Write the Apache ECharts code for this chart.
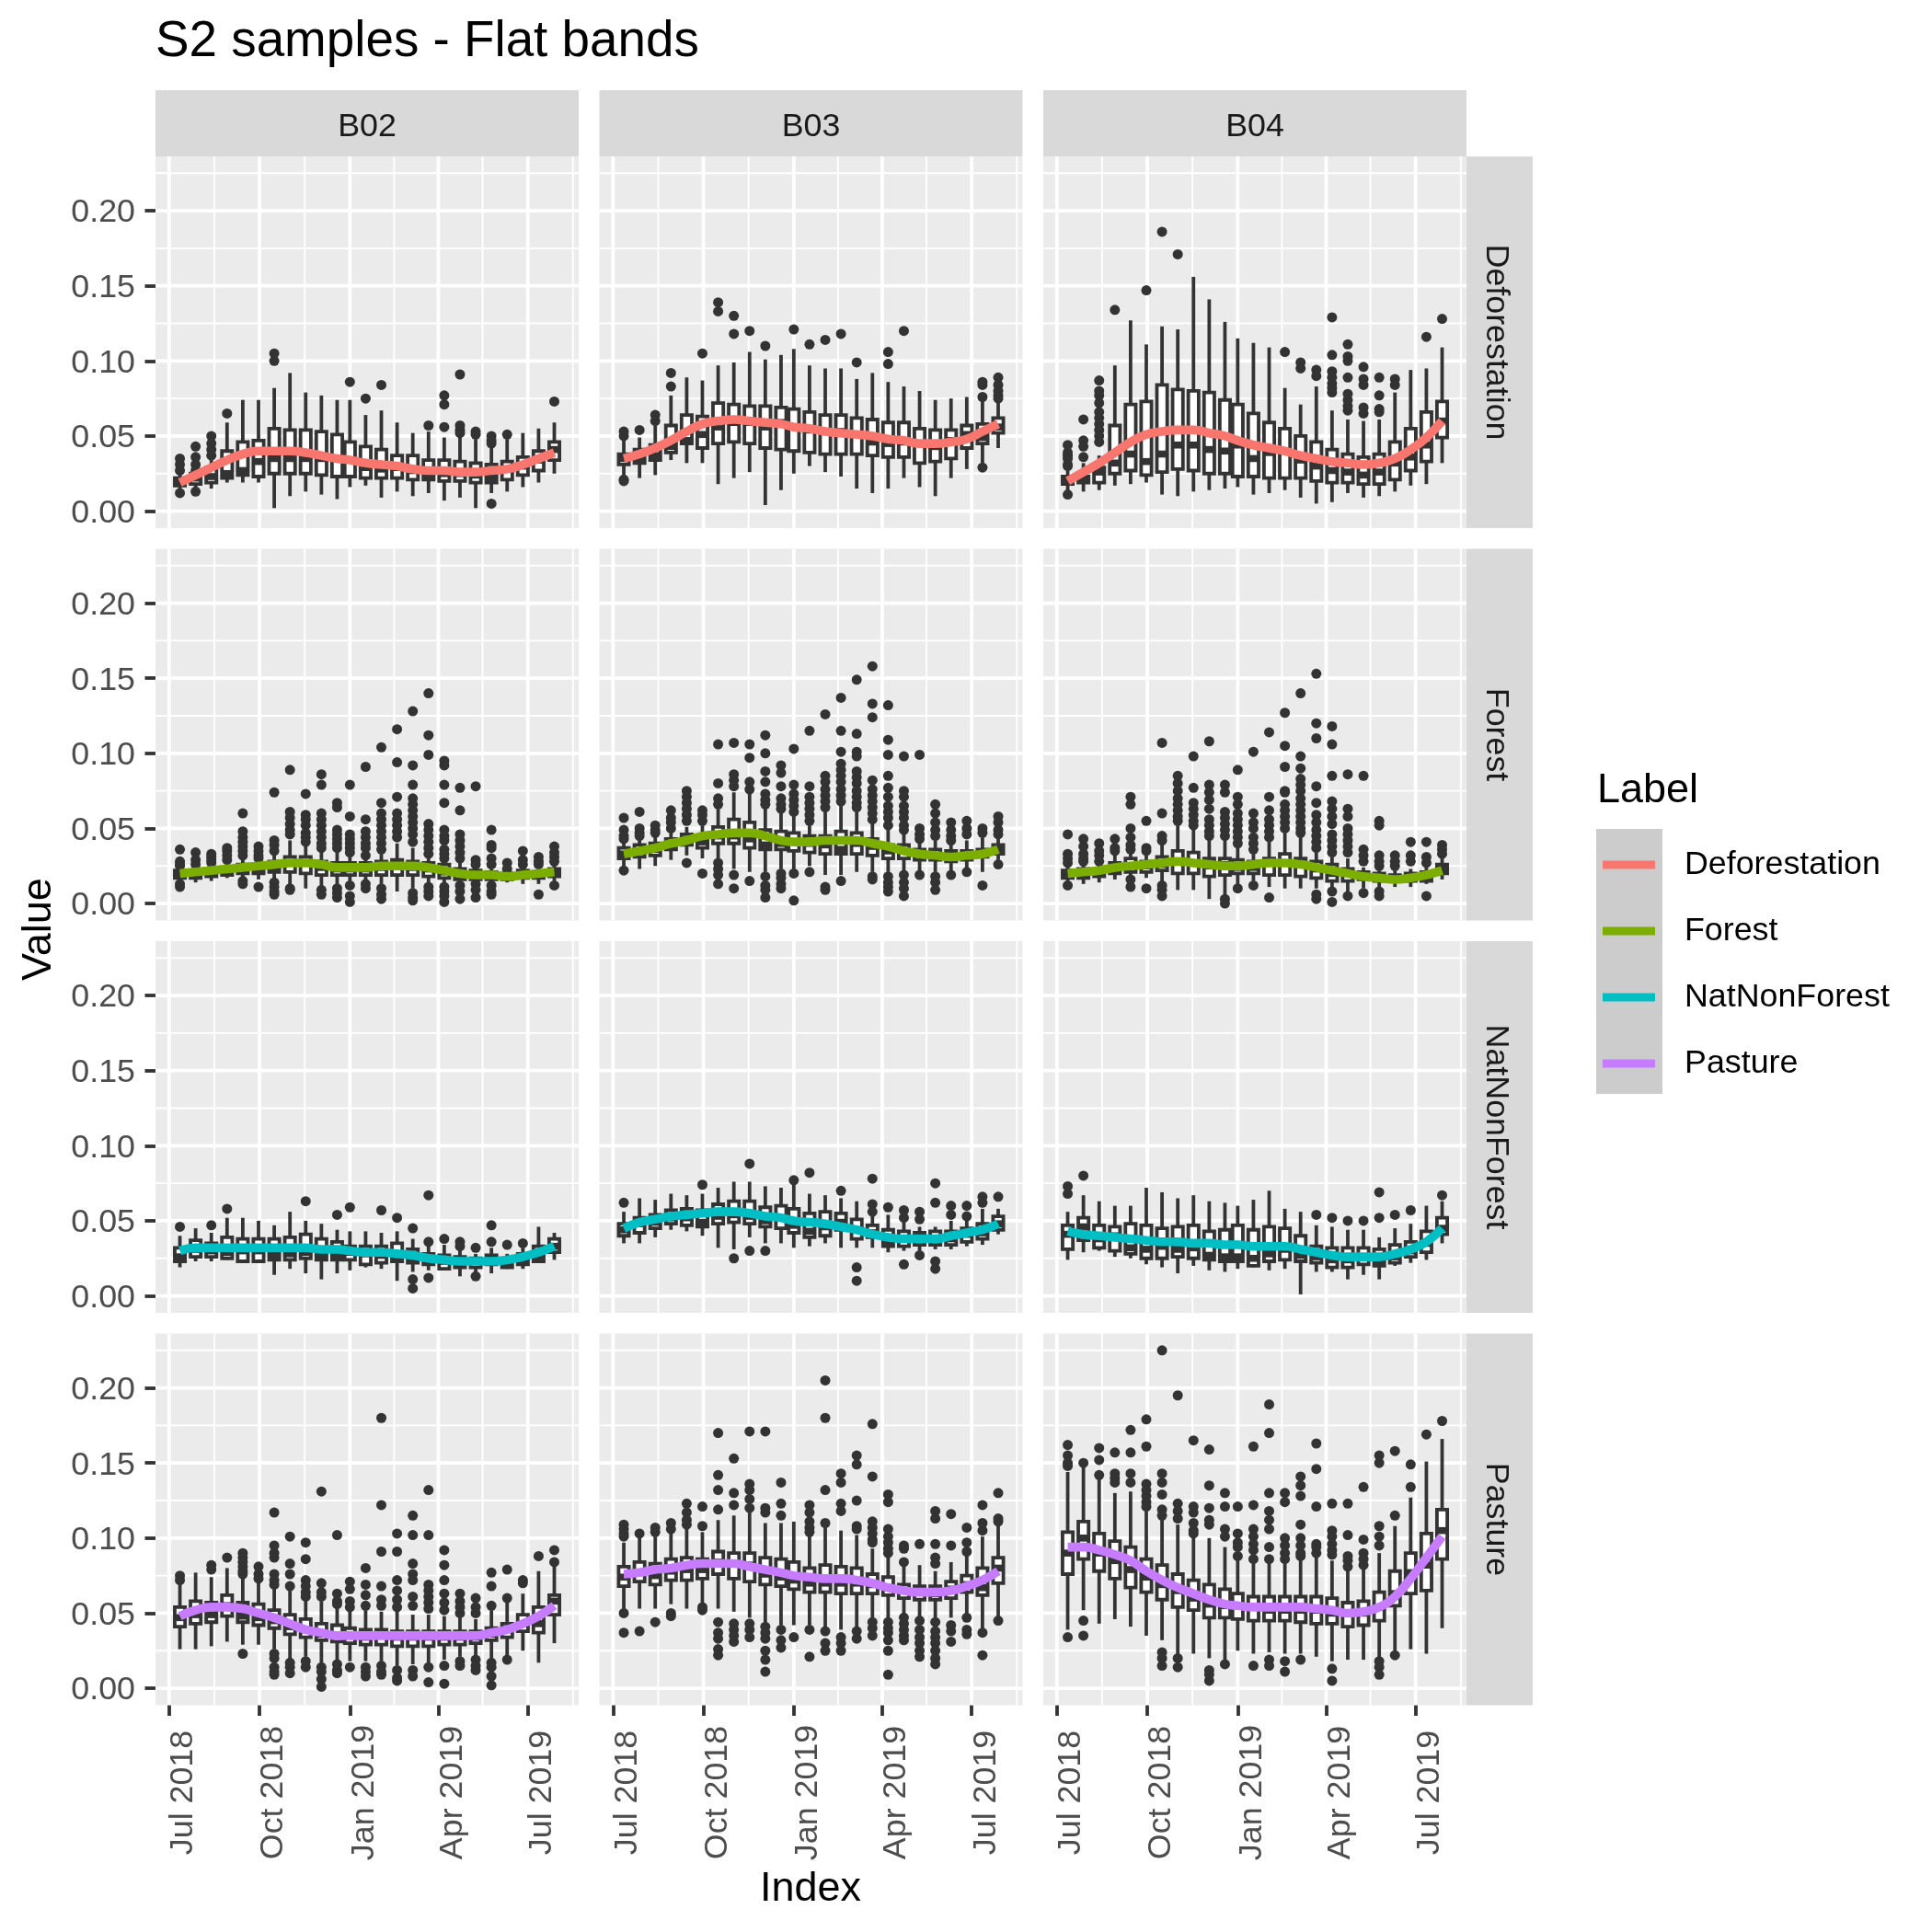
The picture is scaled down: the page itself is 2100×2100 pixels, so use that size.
<!DOCTYPE html>
<html><head><meta charset="utf-8">
<style>html,body{margin:0;padding:0;background:#fff}#c{width:2100px;height:2100px}</style>
<script src="https://cdn.jsdelivr.net/npm/echarts@6/dist/echarts.min.js"></script>
</head><body><div id="c"></div>
<script>
const bands = ['B02','B03','B04'];
const labels = ['Deforestation','Forest','NatNonForest','Pasture'];
const colors = ['#F8766D','#7CAE00','#00BFC4','#C77CFF'];
const dates = ['2018-07-12','2018-07-28','2018-08-13','2018-08-29','2018-09-14','2018-09-30','2018-10-16','2018-11-01','2018-11-17','2018-12-03','2018-12-19','2019-01-01','2019-01-17','2019-02-02','2019-02-18','2019-03-06','2019-03-22','2019-04-07','2019-04-23','2019-05-09','2019-05-25','2019-06-10','2019-06-26','2019-07-12','2019-07-28'];
const xTickDates = ['2018-07-01','2018-10-01','2019-01-01','2019-04-01','2019-07-01'];
const xTickLabels = ['Jul 2018','Oct 2018','Jan 2019','Apr 2019','Jul 2019'];
const xMinorDates = ['2018-08-16','2018-11-16','2019-02-15','2019-05-16','2019-08-16'];
const yTicks = [0,0.05,0.10,0.15,0.20];
const yMinor = [0.025,0.075,0.125,0.175,0.225];

// values are in thousandths; box rows are [low, q1, median, q3, high]
const B02_Deforestation_box = [[14,17,20,22,25],[14,18,22,25,26],[15,19,23,29,34],[19,22,25,40,59],[19,24,27,46,74],[19,23,33,47,74],[2,25,35,55,82],[10,25,35,54,92],[13,25,35,54,79],[11,24,35,53,77],[8,23,35,51,74],[16,23,34,46,74],[17,22,29,43,64],[9,22,28,41,67],[13,22,29,37,59],[10,21,27,37,52],[12,21,23,34,53],[7,20,25,34,49],[9,20,25,33,50],[2,19,24,32,48],[12,19,22,31,43],[13,21,28,33,48],[16,24,30,36,52],[19,27,34,40,55],[25,34,41,46,59]];
const B02_Deforestation_out = [[35,31,27,12],[43,36,31,27,13],[50,45,41,37],[65],[],[],[105,100],[],[],[],[],[86],[75],[84],[],[],[57],[77,71,56],[91,57,54,52],[53,51],[50,47,45,5],[51],[],[],[73]];
const B02_Deforestation_line = [19,24,29,34,38,40,40,40,39,37,35,34,32,31,30,28,27,27,26,26,27,28,31,35,39];

const B03_Deforestation_box = [[23,31,35,38,47],[22,32,35,41,49],[24,34,37,44,57],[34,39,43,57,77],[32,45,47,64,89],[32,42,51,63,87],[18,45,56,72,97],[22,46,59,71,99],[26,45,59,70,106],[4,42,56,70,101],[14,41,59,69,104],[25,40,56,68,108],[30,39,54,66,97],[26,38,53,64,95],[23,38,53,64,95],[15,38,51,62,88],[12,37,46,61,92],[15,36,45,59,86],[22,36,46,59,83],[16,32,45,55,80],[10,33,43,54,74],[22,35,47,54,75],[28,42,51,57,76],[32,45,49,58,75],[42,52,56,62,72]];
const B03_Deforestation_out = [[53,50,21,20],[54],[64,60],[92,83],[],[105],[139,133],[130,118],[120],[110],[],[121],[111],[114],[118],[99],[],[106,98],[120],[],[],[],[],[86,84,76,29],[89,84,80,77,75]];
const B03_Deforestation_line = [35,38,42,47,53,58,60,61,60,59,58,56,55,53,52,51,50,48,47,45,45,46,48,53,58];

const B04_Deforestation_box = [[13,18,21,23,27],[13,19,21,23,32],[14,19,26,29,37],[17,25,32,57,97],[18,27,38,71,127],[19,24,33,73,111],[11,26,38,84,123],[10,28,44,81,121],[13,27,44,80,156],[14,25,41,79,141],[15,25,40,74,126],[16,23,44,71,115],[11,23,35,65,112],[12,22,39,59,109],[14,22,40,55,82],[9,22,34,50,71],[5,20,30,46,83],[6,19,27,41,67],[12,19,26,38,61],[9,18,24,36,60],[10,18,26,38,61],[13,21,32,46,79],[17,27,36,55,94],[18,33,44,66,95],[32,49,60,73,109]];
const B04_Deforestation_out = [[44,39,37,35,31,30,11],[61,47,43,36],[87,80,77,72,66,62,58,54,50,46],[134],[],[147],[186],[171],[],[],[],[],[],[],[106],[99,95],[94,90],[129,104,93,89,85,82,79],[111,103,100,89,78,74,70,67],[96,88,84,69,65],[89,77,68,66],[88,84],[],[116],[128]];
const B04_Deforestation_line = [20,26,32,39,46,51,53,54,54,52,50,47,44,42,40,37,35,33,32,31,32,35,41,49,60];

const B02_Forest_box = [[16,17,20,22,23],[14,17,20,22,24],[15,18,21,23,25],[17,19,22,24,27],[16,20,23,26,30],[16,20,23,26,28],[16,21,24,28,32],[11,21,27,31,42],[10,20,27,31,40],[11,19,24,28,36],[12,19,23,27,35],[14,19,23,27,32],[15,19,23,27,30],[13,19,24,28,33],[8,19,26,29,40],[10,19,24,28,37],[13,18,23,27,30],[14,17,21,26,28],[13,16,20,23,27],[14,16,19,22,24],[13,16,18,21,23],[14,16,18,20,22],[13,17,19,22,23],[13,17,19,21,23],[15,18,21,23,26]];
const B02_Forest_out = [[36,28,26,25,13,11],[34,29,26],[33,31,29,27],[37,35,32,29],[60,48,44,41,38,35,32,15,13],[38,35,32,30,11],[74,42,39,35,14,11,8,6],[89,61,57,53,49,46,10,9],[73,59,56,52,47,44,41],[86,79,60,56,52,48,44,40,37,9,6],[67,64,49,46,43,40,37,10,7,4],[79,58,46,43,40,37,34,12,5,1],[91,56,48,44,40,37,32,13,10],[104,67,60,56,52,48,44,40,36,10,6,3],[116,94,71,60,56,52,48,44],[128,92,79,70,66,62,58,54,50,46,41,7,4,2],[140,112,99,53,49,45,41,37,33,11,8,5],[95,92,79,67,49,45,42,36,33,30,11,8,5,1],[77,62,46,42,38,34,30,12,8,3],[78,29,26,13,9,4],[49,39,37,30,26,12,8,6],[27,23],[35,29,26],[31,28,26,6],[38,34,31,28,12]];
const B02_Forest_line = [20,21,22,23,24,25,26,27,27,26,24,24,24,25,25,25,24,22,20,19,19,18,19,20,21];

const B03_Forest_box = [[24,30,33,37,41],[23,31,35,39,43],[25,32,36,40,45],[29,36,39,43,48],[32,39,42,46,51],[30,37,41,45,52],[30,40,45,51,63],[23,40,45,56,74],[21,37,43,54,73],[21,36,39,49,64],[23,36,40,48,61],[22,35,41,47,59],[25,34,40,45,52],[19,33,39,45,61],[19,33,36,48,65],[21,33,40,47,61],[21,32,38,43,54],[21,30,35,39,49],[21,30,35,39,48],[22,29,33,36,41],[21,29,32,36,42],[21,28,32,35,40],[23,29,32,35,42],[21,31,34,36,44],[29,33,36,39,44]];
const B03_Forest_out = [[57,49,45,43,22],[61,50,47,45],[52,49,47],[62,57,54,50],[75,71,67,63,59,55,27],[62,59,55,20],[106,80,70,66,27,23,19,13],[107,86,82,78,19,10],[106,97,81,76,15],[112,100,88,81,73,69,66,18,12,9,4],[92,87,78,70,66,63,20,17,13,10],[103,79,73,69,65,61,20,2],[115,78,71,67,63,59,55,21],[126,85,81,76,72,68,64,11,9],[137,115,101,93,89,85,81,76,72,68,15],[149,113,101,98,88,84,80,75,71,67,64],[158,133,124,82,76,72,68,64,60,56,18,16],[132,109,99,85,77,71,65,61,57,52,18,14,11,8],[98,75,71,65,61,57,52,49,19,14,10,5],[99,50,46,43,19],[66,60,54,49,45,18,14,9],[54,49,45,42,19],[55,50,46,21],[50,47,12],[58,54,49,46,26]];
const B03_Forest_line = [33,35,37,40,42,45,46,47,47,45,42,41,41,42,42,42,40,38,35,33,32,31,32,33,36];

const B04_Forest_box = [[14,17,20,22,24],[13,17,20,23,26],[14,18,21,23,26],[16,20,23,27,32],[18,21,25,30,34],[17,21,25,28,33],[14,22,26,31,40],[9,20,28,35,52],[9,20,27,34,51],[3,18,25,30,44],[5,19,26,30,43],[12,20,24,29,37],[15,20,24,28,33],[11,19,27,30,41],[10,19,27,33,47],[10,18,27,30,45],[10,17,23,28,34],[11,15,20,26,31],[8,15,20,23,30],[10,16,19,21,24],[11,15,18,20,22],[11,15,17,19,22],[11,15,18,20,23],[13,15,18,21,24],[16,20,23,26,30]];
const B04_Forest_out = [[46,33,30,27,12],[43,38,33,30,28],[40,35,32,28],[43,37,35],[71,66,50,44,39,36,16,11],[55,37,35,10],[107,60,45,42,12,9,5],[85,80,75,70,66,62,58,55],[98,77,67,63,59,55,52],[108,79,74,69,63,56,52,48,45],[79,74,61,57,53,49,45,3,0],[89,71,66,60,56,52,48,44,40,10],[101,60,54,50,44,40,36,12],[114,71,62,56,52,48,44,4],[127,105,91,75,74,66,62,58,54,50],[140,98,90,83,79,75,70,66,62,58,54,50,47],[153,120,110,78,67,59,54,49,45,41,37,6,3],[118,106,85,68,63,58,53,46,42,38,34,8,1],[86,63,58,50,46,42,38,34,5],[85,36,32,28,7],[55,52,32,28,25,8,5],[32,28,25],[41,32,28],[41,31,27,5],[39,36,33]];
const B04_Forest_line = [20,21,22,24,25,26,27,28,27,26,25,25,26,27,27,26,24,22,20,18,17,16,17,19,22];

const B02_NatNonForest_box = [[19,23,26,32,40],[23,26,31,37,45],[23,26,30,35,42],[24,25,29,39,52],[22,23,30,38,52],[22,23,30,38,50],[14,24,27,38,47],[18,24,28,39,56],[15,25,29,41,50],[11,24,27,38,48],[15,24,27,36,44],[17,24,29,33,43],[19,21,28,33,43],[18,22,27,33,42],[10,23,26,35,43],[16,22,25,31,38],[17,21,23,28,33],[17,18,23,27,34],[13,19,22,26,31],[15,19,23,25,28],[15,21,24,27,32],[18,19,21,23,28],[18,21,23,28,32],[22,23,25,33,46],[24,29,33,38,42]];
const B02_NatNonForest_out = [[46],[],[47],[58],[],[],[],[],[63],[],[54],[59],[],[57],[52],[45,11,5],[67,36,12],[38],[36,33],[32,13],[47,36],[34],[35],[],[]];
const B02_NatNonForest_line = [30,32,32,32,32,32,32,32,32,31,31,30,29,29,28,27,25,24,23,23,23,24,26,29,33];

const B03_NatNonForest_box = [[35,40,44,48,56],[35,42,48,52,65],[39,45,49,54,64],[44,48,52,57,68],[43,47,52,58,67],[40,46,49,57,68],[32,48,53,61,72],[31,49,54,63,76],[39,48,53,63,76],[35,46,50,59,73],[35,45,52,60,72],[32,42,47,58,75],[33,39,43,55,68],[35,40,46,56,67],[32,44,49,55,65],[32,38,44,51,63],[32,39,42,47,55],[29,33,36,44,54],[30,33,38,43,49],[30,34,38,42,46],[31,34,38,43,46],[31,34,38,43,50],[33,36,41,45,50],[34,38,42,48,58],[41,44,48,53,58]];
const B03_NatNonForest_out = [[62],[],[],[],[],[74],[],[25],[88,30],[30],[],[77],[82],[],[70],[19,10],[78,61,56],[59],[57,52,21],[56,51,27],[75,62,23,18],[60,54],[60,53],[66,62],[66]];
const B03_NatNonForest_line = [45,49,51,53,54,55,56,56,55,53,52,50,49,48,46,44,41,39,38,38,38,40,42,44,48];

const B04_NatNonForest_box = [[24,31,41,47,56],[29,37,46,52,67],[30,32,38,47,63],[26,30,40,46,60],[25,28,32,48,60],[21,25,31,47,72],[19,25,33,45,69],[15,26,31,46,65],[20,25,32,47,67],[17,24,27,43,63],[16,23,26,44,62],[18,23,26,47,60],[19,20,25,44,64],[17,23,28,46,70],[18,24,31,45,58],[1,23,27,40,56],[16,22,26,33,47],[16,19,24,32,46],[11,19,24,32,44],[14,21,26,32,44],[11,20,22,31,39],[20,22,26,34,45],[22,26,30,36,48],[24,29,35,43,60],[35,41,45,52,63]];
const B04_NatNonForest_out = [[73,68],[80],[],[],[],[],[],[],[],[],[],[],[],[],[],[],[54],[52],[50],[50],[69,52],[54],[57],[],[67]];
const B04_NatNonForest_line = [43,41,40,39,38,37,36,36,35,35,34,34,33,33,33,31,29,27,26,26,26,28,31,36,45];

const B02_Pasture_box = [[26,41,47,54,70],[26,43,49,58,77],[28,44,49,57,74],[31,48,55,62,80],[29,44,48,57,74],[29,42,47,56,72],[26,40,45,52,67],[19,36,41,49,65],[21,34,39,46,59],[16,32,36,43,58],[18,31,35,42,55],[18,30,35,40,51],[18,29,34,39,52],[18,29,35,39,51],[15,28,34,38,51],[16,28,34,38,49],[16,28,34,38,49],[19,29,34,38,48],[21,29,34,38,47],[21,30,34,38,46],[19,32,36,40,52],[22,34,39,43,57],[25,38,43,49,63],[17,37,43,54,78],[30,49,58,62,81]];
const B02_Pasture_out = [[75,72],[],[82,79],[87],[90,87,84,81,78,76,23],[81,76,73],[117,95,90,87,76,72,69,23,20,14,11,9],[101,83,76,68,17,14,10],[97,86,72,68,64,61,18,14],[131,70,64,61,14,11,6,1],[102,63,58,56,16,12,10],[71,66,58,54,14],[80,69,62,55,14,11,8],[180,122,91,68,59,55,15,11,9],[103,91,72,65,59,54,12,7,5],[115,102,83,76,72,61,55,12,8],[132,102,69,65,61,57,53,14,4],[92,82,72,63,57,52,15,3],[63,58,54,50,18,15],[60,54,50,19,15,12],[77,68,55,17,14,8,2],[79,60,19],[72,70],[88],[92,84]];
const B02_Pasture_line = [48,52,54,54,53,50,47,43,39,37,35,35,35,35,35,35,35,35,35,35,37,39,43,48,55];

const B03_Pasture_box = [[52,68,74,81,97],[53,71,77,84,100],[53,69,75,83,101],[56,72,78,86,103],[53,72,79,87,107],[56,73,79,86,104],[53,76,84,91,112],[51,73,83,90,115],[47,71,82,90,117],[43,69,76,87,110],[42,68,74,86,110],[42,66,72,84,111],[42,64,70,80,103],[41,64,70,82,107],[39,63,70,81,105],[41,63,70,80,102],[47,63,69,76,93],[47,62,67,74,89],[49,60,65,69,82],[47,59,64,68,82],[47,59,63,68,78],[47,60,66,71,84],[50,64,69,75,90],[39,62,67,80,101],[47,70,80,87,108]];
const B03_Pasture_out = [[109,106,103,101,50,37],[103,38],[107,104,44],[110,106,50,48],[123,117,112,109],[121,108,54,52],[170,142,132,119,44,37,33,26,22],[153,130,122,43,39,35,31],[171,136,132,126,120,43,39,34],[171,120,117,41,37,33,25,19,11],[137,123,115,39,32,27],[34],[122,117,111,107,104,39,21],[205,180,132,110,38,30,25],[143,137,123,118,34,30,25],[155,149,125,108,106,38,33],[176,141,111,107,103,99,97,44,40,35],[129,124,106,101,97,93,90,44,40,37,32,25,9],[95,93,84,47,43,39,35,32],[96,45,39,34,30,25,21],[118,113,96,87,83,44,38,34,30,25,20,16],[116,95,42,38,31],[107,97,91,47,39,36],[122,110,105,37,22],[130,113,111,45]];
const B03_Pasture_line = [76,77,79,80,82,83,83,83,81,79,77,75,74,73,73,72,70,67,65,64,64,65,68,72,78];

const B04_Pasture_box = [[39,76,90,104,144],[52,86,100,111,148],[43,78,90,103,140],[46,73,85,98,130],[41,67,79,94,131],[35,64,74,86,118],[32,59,69,82,114],[21,54,65,76,109],[23,52,60,72,100],[20,47,56,69,100],[18,47,55,66,94],[25,46,55,63,90],[23,45,54,61,83],[24,45,52,61,84],[23,45,52,61,85],[23,44,52,61,86],[21,43,52,61,87],[18,43,50,60,85],[19,41,50,57,79],[19,42,50,58,81],[20,45,54,64,90],[25,55,63,78,108],[26,63,77,90,127],[23,65,82,103,151],[40,86,105,119,166]];
const B04_Pasture_out = [[162,155,150,148,34],[150,45,35],[160,152,142],[157,143,140,137],[172,157,143,137],[179,161,136,132,128,124,121],[225,143,137,129,119,115,24,20,15],[195,123,118,113,20,14],[165,121,117,110,105,103],[159,135,120,112,109,12,9,5],[130,121,106,101,16],[121,103,97,94,88],[161,122,106,101,96,92,86,15],[189,170,130,118,112,106,94,86,19,15],[130,124,100,95,90,86,18,11],[141,135,128,109,100,95,90,88,19],[163,146,121,96,94,90],[123,105,101,96,92,89,13,5],[123,102,88,85,81],[134,99,90,86,82],[155,150,108,101,95,18,14,9],[158,115,22],[149,134],[169],[178]];
const B04_Pasture_line = [94,94,92,89,85,78,72,67,63,59,56,55,54,54,54,54,53,52,50,51,54,61,73,87,101];

const panelData = {
  B02:{Deforestation:[B02_Deforestation_box,B02_Deforestation_out,B02_Deforestation_line],Forest:[B02_Forest_box,B02_Forest_out,B02_Forest_line],NatNonForest:[B02_NatNonForest_box,B02_NatNonForest_out,B02_NatNonForest_line],Pasture:[B02_Pasture_box,B02_Pasture_out,B02_Pasture_line]},
  B03:{Deforestation:[B03_Deforestation_box,B03_Deforestation_out,B03_Deforestation_line],Forest:[B03_Forest_box,B03_Forest_out,B03_Forest_line],NatNonForest:[B03_NatNonForest_box,B03_NatNonForest_out,B03_NatNonForest_line],Pasture:[B03_Pasture_box,B03_Pasture_out,B03_Pasture_line]},
  B04:{Deforestation:[B04_Deforestation_box,B04_Deforestation_out,B04_Deforestation_line],Forest:[B04_Forest_box,B04_Forest_out,B04_Forest_line],NatNonForest:[B04_NatNonForest_box,B04_NatNonForest_out,B04_NatNonForest_line],Pasture:[B04_Pasture_box,B04_Pasture_out,B04_Pasture_line]}
};

const FONT = '"Liberation Sans",Helvetica,Arial,sans-serif';
const SMALL = 35.8;
const DAY = 86400000;
const ts = s => Date.parse(s + 'T00:00:00Z');
const colX = [169,651.5,1134], rowY = [170,596.5,1023,1449.5], PW = 460, PH = 404;
const xMin = ts('2018-07-01') - 13.85*DAY, xMax = xMin + 430.65*DAY;
const yMin = -0.0113, yMax = 0.2362;
const boxHalf = 5.25*DAY;
const INK = '#333333', LW = 3.8;
const tickTs = xTickDates.map(ts);

const grids=[],xAxes=[],yAxes=[],series=[],graphics=[];
const gridLines = [
  ...xMinorDates.map(d=>({x:ts(d),w:1.9})), ...tickTs.map(x=>({x,w:3.8})),
  ...yMinor.map(y=>({y,w:1.9})), ...yTicks.map(y=>({y,w:3.8}))
];

function renderGrid(params, api){
  const g = gridLines[params.dataIndex];
  const a = g.x!==undefined ? api.coord([g.x,yMin]) : api.coord([xMin,g.y]);
  const b = g.x!==undefined ? api.coord([g.x,yMax]) : api.coord([xMax,g.y]);
  return {type:'line',shape:{x1:a[0],y1:a[1],x2:b[0],y2:b[1]},style:{stroke:'#FFFFFF',lineWidth:g.w}};
}
function renderBox(params, api){
  const x=api.value(0), lo=api.value(1), q1=api.value(2), med=api.value(3), q3=api.value(4), hi=api.value(5);
  const L=api.coord([x-boxHalf,q3]), R=api.coord([x+boxHalf,q1]);
  const pLo=api.coord([x,lo]), pQ1=api.coord([x,q1]), pQ3=api.coord([x,q3]), pHi=api.coord([x,hi]), mL=api.coord([x-boxHalf,med]), mR=api.coord([x+boxHalf,med]);
  const st={stroke:INK,lineWidth:LW};
  return {type:'group',children:[
    {type:'line',shape:{x1:pLo[0],y1:pLo[1],x2:pQ1[0],y2:pQ1[1]},style:st},
    {type:'line',shape:{x1:pQ3[0],y1:pQ3[1],x2:pHi[0],y2:pHi[1]},style:st},
    {type:'rect',shape:{x:L[0],y:L[1],width:R[0]-L[0],height:R[1]-L[1]},style:{fill:'#FFFFFF',stroke:INK,lineWidth:LW}},
    {type:'line',shape:{x1:mL[0],y1:mL[1],x2:mR[0],y2:mR[1]},style:{stroke:INK,lineWidth:LW*2}}
  ]};
}

bands.forEach((band,c)=>{
  labels.forEach((label,r)=>{
    const idx=grids.length, [box,out,line]=panelData[band][label];
    grids.push({left:colX[c],top:rowY[r],width:PW,height:PH,show:true,backgroundColor:'#EBEBEB',borderWidth:0,containLabel:false});
    const bottom = r===labels.length-1, leftCol = c===0;
    xAxes.push({gridIndex:idx,type:'value',min:xMin,max:xMax,splitLine:{show:false},
      axisLine:{show:false,onZero:false},
      axisTick:{show:bottom,customValues:tickTs,length:11.5,lineStyle:{color:INK,width:LW}},
      axisLabel:{show:bottom,customValues:tickTs,rotate:90,margin:95,align:'center',verticalAlign:'top',lineHeight:31,
        hideOverlap:false,fontFamily:FONT,fontSize:SMALL,color:'#4D4D4D',
        formatter:v=>xTickLabels[tickTs.indexOf(v)]||''}});
    yAxes.push({gridIndex:idx,type:'value',min:yMin,max:yMax,splitLine:{show:false},
      axisLine:{show:false,onZero:false},
      axisTick:{show:leftCol,customValues:yTicks,length:11.5,lineStyle:{color:INK,width:LW}},
      axisLabel:{show:leftCol,customValues:yTicks,margin:22,hideOverlap:false,fontFamily:FONT,fontSize:SMALL,color:'#4D4D4D',
        rich:{t:{fontFamily:FONT,fontSize:SMALL,color:'#4D4D4D',padding:[5,0,0,0]}},
        formatter:v=>'{t|'+v.toFixed(2)+'}'}});
    const base={xAxisIndex:idx,yAxisIndex:idx,silent:true,animation:false};
    series.push({...base,type:'custom',z:1,clip:true,renderItem:renderGrid,data:gridLines.map(()=>[xMin,yMin])});
    const pts=[];
    out.forEach((vals,i)=>vals.forEach(v=>pts.push([ts(dates[i]),v/1000])));
    series.push({...base,type:'scatter',z:2,symbol:'circle',symbolSize:11,itemStyle:{color:INK,opacity:1},data:pts});
    series.push({...base,type:'custom',z:3,renderItem:renderBox,encode:{x:0,y:[1,2,3,4,5]},
      data:box.map((b,i)=>[ts(dates[i]),...b.map(v=>v/1000)])});
    series.push({...base,type:'line',z:4,name:label,smooth:true,symbol:'none',showSymbol:false,
      lineStyle:{color:colors[r],width:9.6,cap:'butt'},itemStyle:{color:colors[r]},
      data:line.map((v,i)=>[ts(dates[i]),v/1000])});
  });
});

bands.forEach((band,c)=>{
  graphics.push({type:'rect',z:0,silent:true,shape:{x:colX[c],y:98,width:PW,height:72},style:{fill:'#D9D9D9'}});
  graphics.push({type:'text',z:5,silent:true,x:colX[c]+PW/2,y:138,style:{text:band,font:SMALL+'px '+FONT,fill:'#1A1A1A',textAlign:'center',textVerticalAlign:'middle'}});
});
labels.forEach((label,r)=>{
  graphics.push({type:'rect',z:0,silent:true,shape:{x:colX[2]+PW,y:rowY[r],width:72,height:PH},style:{fill:'#D9D9D9'}});
  graphics.push({type:'text',z:5,silent:true,x:1626,y:rowY[r]+PH/2,rotation:-Math.PI/2,style:{text:label,font:SMALL+'px '+FONT,fill:'#1A1A1A',textAlign:'center',textVerticalAlign:'middle'}});
});
graphics.push({type:'text',z:5,silent:true,x:881,y:2054,style:{text:'Index',font:'45px '+FONT,fill:'#000',textAlign:'center',textVerticalAlign:'middle'}});
graphics.push({type:'text',z:5,silent:true,x:43,y:1010,rotation:Math.PI/2,style:{text:'Value',font:'45px '+FONT,fill:'#000',textAlign:'center',textVerticalAlign:'middle'}});
graphics.push({type:'text',z:5,silent:true,x:1736,y:860,style:{text:'Label',font:'45px '+FONT,fill:'#000',textAlign:'left',textVerticalAlign:'middle'}});
graphics.push({type:'rect',z:0,silent:true,shape:{x:1735,y:901,width:72,height:288},style:{fill:'#CCCCCC'}});

const chart=echarts.init(document.getElementById('c'),null,{width:2100,height:2100,renderer:'canvas'});
chart.setOption({
  animation:false,backgroundColor:'#FFFFFF',
  title:{text:'S2 samples - Flat bands',left:169,top:18,padding:0,textStyle:{fontFamily:FONT,fontSize:54.8,fontWeight:'normal',color:'#000'}},
  legend:{data:labels,orient:'vertical',left:1742,top:919,padding:0,icon:'rect',itemWidth:57,itemHeight:9,itemGap:30,selectedMode:false,
    textStyle:{fontFamily:FONT,fontSize:SMALL,color:'#000',padding:[0,0,0,27],height:42,lineHeight:42}},
  grid:grids,xAxis:xAxes,yAxis:yAxes,series:series,graphic:graphics
});
</script></body></html>
